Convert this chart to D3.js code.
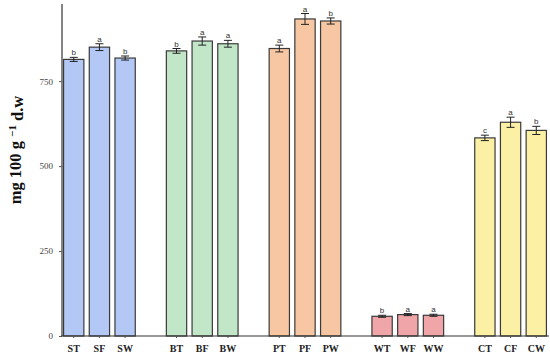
<!DOCTYPE html>
<html>
<head>
<meta charset="utf-8">
<script src="https://cdn.jsdelivr.net/npm/d3@7"></script>
<style>
  body { margin: 0; background: #fff; }
  svg { display: block; }
</style>
</head>
<body>
<div id="chart"></div>
<script>
// Data
const groups = ["S", "B", "P", "W", "C"];
const categories = ["ST", "SF", "SW", "BT", "BF", "BW", "PT", "PF", "PW", "WT", "WF", "WW", "CT", "CF", "CW"];
const values = [814, 850, 818, 839, 868, 860, 846, 933, 927, 58, 63, 61, 583, 629, 605];
const errors = [6, 10, 6, 7, 12, 10, 10, 16, 9, 3, 3, 3, 8, 15, 12];
const letters = ["b", "a", "b", "b", "a", "a", "a", "a", "b", "b", "a", "a", "c", "a", "b"];
const yTicks = [0, 250, 500, 750];
const groupColors = ["#b4c8f6", "#c2e7c8", "#f7c7a3", "#f0a5a9", "#fbf0a3"];

const width = 550;
const height = 357;
const margin = { top: 4, right: 1, bottom: 21, left: 61 };

const svg = d3.select("#chart")
  .append("svg")
  .attr("width", width)
  .attr("height", height);

// one empty slot between every group of three
const slots = [];
categories.forEach((c, i) => {
  if (i > 0 && i % 3 === 0) slots.push("gap" + i);
  slots.push(c);
});

const x = d3.scaleBand()
  .domain(slots)
  .range([margin.left, width - margin.right])
  .paddingInner(0.21)
  .paddingOuter(0.1);

const y = d3.scaleLinear()
  .domain([0, 977])
  .range([height - margin.bottom, margin.top]);

const data = categories.map((c, i) => ({
  name: c,
  value: values[i],
  err: errors[i],
  letter: letters[i],
  color: groupColors[Math.floor(i / 3)]
}));

// bars
svg.append("g")
  .selectAll("rect")
  .data(data)
  .join("rect")
  .attr("x", d => x(d.name))
  .attr("y", d => y(d.value))
  .attr("width", x.bandwidth())
  .attr("height", d => y(0) - y(d.value))
  .attr("fill", d => d.color)
  .attr("stroke", "#3a3a3a")
  .attr("stroke-width", 1.2);

// error bars
const eb = svg.append("g")
  .attr("stroke", "#222")
  .attr("stroke-width", 1);
const cx = d => x(d.name) + x.bandwidth() / 2;
eb.selectAll(".stem")
  .data(data)
  .join("line")
  .attr("x1", cx).attr("x2", cx)
  .attr("y1", d => y(d.value - d.err))
  .attr("y2", d => y(d.value + d.err));
eb.selectAll(".cap-top")
  .data(data)
  .join("line")
  .attr("x1", d => cx(d) - 4).attr("x2", d => cx(d) + 4)
  .attr("y1", d => y(d.value + d.err))
  .attr("y2", d => y(d.value + d.err));
eb.selectAll(".cap-bot")
  .data(data)
  .join("line")
  .attr("x1", d => cx(d) - 4).attr("x2", d => cx(d) + 4)
  .attr("y1", d => y(d.value - d.err))
  .attr("y2", d => y(d.value - d.err));

// significance letters
svg.append("g")
  .selectAll("text")
  .data(data)
  .join("text")
  .attr("x", cx)
  .attr("y", d => y(d.value + d.err) - 2)
  .attr("text-anchor", "middle")
  .style("font-family", "Liberation Sans, Arial, sans-serif")
  .style("font-size", "8px")
  .style("fill", "#333")
  .text(d => d.letter);

// y axis
const yAxis = svg.append("g")
  .attr("transform", `translate(${margin.left + 1},0)`)
  .call(d3.axisLeft(y).tickValues(yTicks).tickSize(3).tickPadding(6).tickSizeOuter(0));
yAxis.select(".domain")
  .attr("d", `M0,${y(0)}V${margin.top}`)
  .attr("stroke", "#333")
  .attr("stroke-width", 1.2);
yAxis.selectAll(".tick line").attr("stroke", "#555");
yAxis.selectAll(".tick text")
  .style("font-family", "Liberation Serif, Times New Roman, serif")
  .style("font-size", "9px")
  .style("fill", "#444");

// x axis
const xAxis = svg.append("g")
  .attr("transform", `translate(0,${y(0)})`)
  .call(d3.axisBottom(x).tickValues(categories).tickSize(2).tickPadding(7).tickSizeOuter(0));
xAxis.select(".domain")
  .attr("d", `M${margin.left},0H${width - margin.right}`)
  .attr("stroke", "#333")
  .attr("stroke-width", 1.2);
xAxis.selectAll(".tick line").attr("stroke", "#555");
xAxis.selectAll(".tick text")
  .style("font-family", "Liberation Serif, Times New Roman, serif")
  .style("font-size", "10px")
  .style("font-weight", "bold")
  .style("fill", "#222");

// y label
const yl = svg.append("text")
  .attr("transform", "translate(21,150) rotate(-90)")
  .attr("text-anchor", "middle")
  .style("font-family", "Liberation Serif, Times New Roman, serif")
  .style("font-size", "16.5px")
  .style("font-weight", "bold")
  .style("fill", "#111");
yl.append("tspan").text("mg 100 g ");
yl.append("tspan").attr("dy", "-0.45em").style("font-size", "11px").text("\u22121");
yl.append("tspan").attr("dy", "0.45em").text(" d.w");
</script>
</body>
</html>
